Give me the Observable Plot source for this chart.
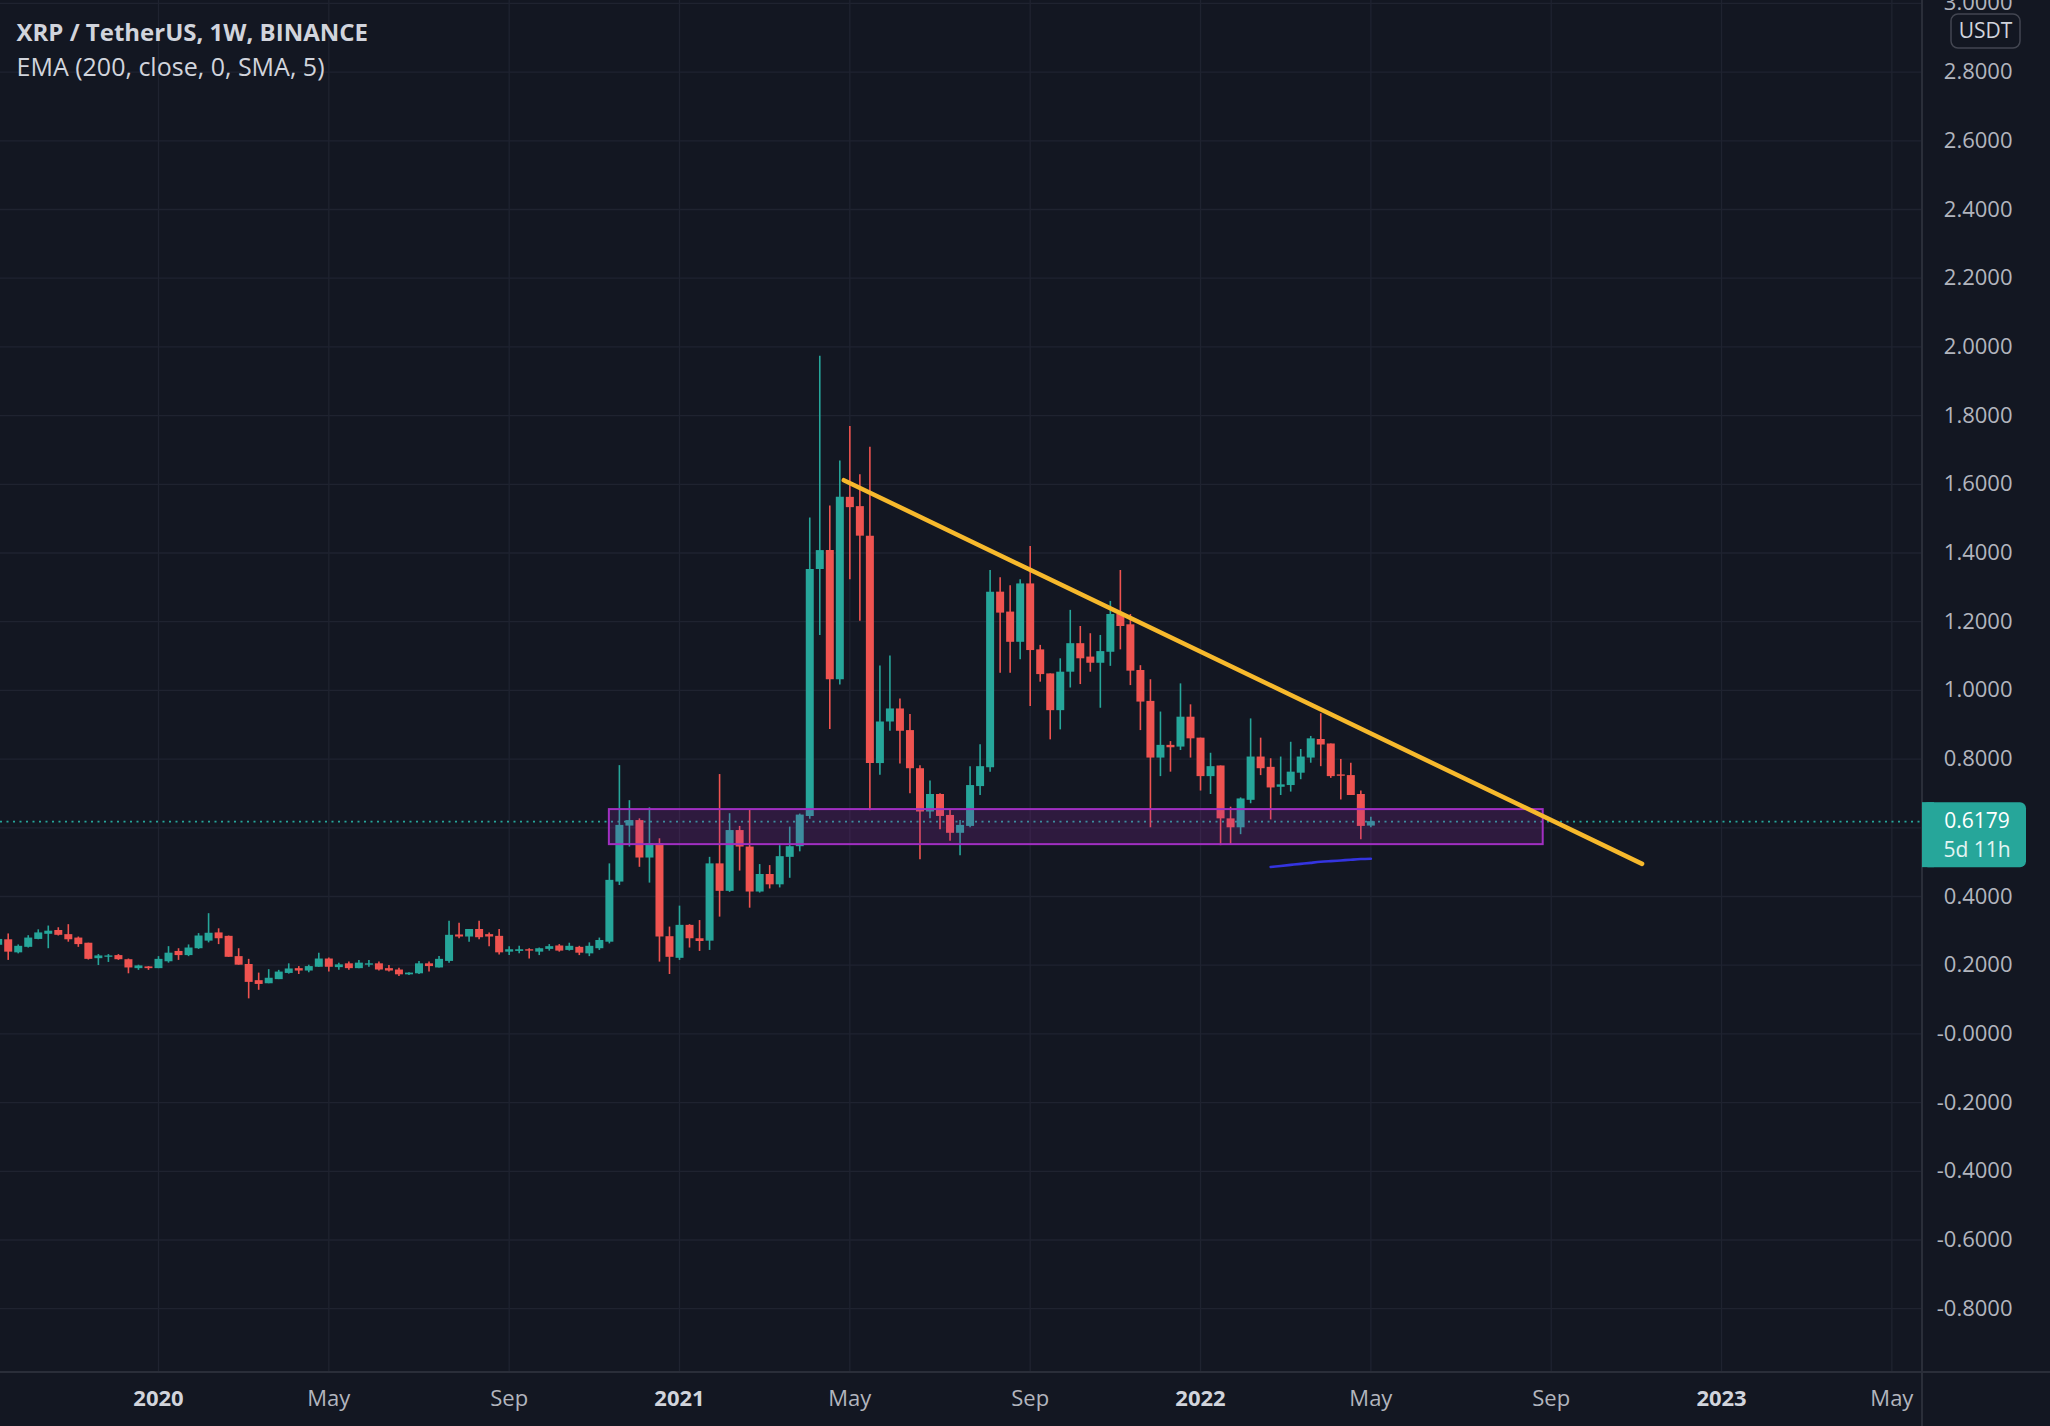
<!DOCTYPE html>
<html>
<head>
<meta charset="utf-8">
<script src="https://cdn.jsdelivr.net/npm/d3@7"></script>
<script src="https://cdn.jsdelivr.net/npm/@observablehq/plot@0.6"></script>
<style>
html, body { margin: 0; padding: 0; background: #131722; overflow: hidden; }
#chart { position: relative; width: 2050px; height: 1426px; }
</style>
</head>
<body>
<div id="chart"></div>
<script>
// ---------- DATA (weekly candles, first week = 2019-09-16) ----------
const firstWeek = "2019-09-16";
const opens = [
0.258,0.274,0.236,0.252,0.275,0.290,0.301,0.289,0.279,0.264,
0.219,0.223,0.228,0.216,0.190,0.195,0.190,0.210,0.240,0.228,
0.248,0.270,0.294,0.284,0.225,0.202,0.155,0.146,0.158,0.176,
0.190,0.183,0.194,0.218,0.193,0.204,0.190,0.200,0.204,0.190,
0.186,0.172,0.175,0.204,0.192,0.211,0.288,0.282,0.304,0.289,
0.284,0.238,0.240,0.245,0.238,0.246,0.256,0.243,0.252,0.233,
0.248,0.267,0.442,0.605,0.621,0.512,0.553,0.283,0.220,0.316,
0.277,0.270,0.495,0.415,0.592,0.544,0.413,0.464,0.434,0.514,
0.545,0.633,1.352,1.407,1.031,1.562,1.535,1.449,0.787,0.908,
0.946,0.883,0.772,0.646,0.697,0.636,0.584,0.604,0.720,0.775,
1.286,1.228,1.140,1.310,1.118,1.048,0.941,1.053,1.136,1.097,
1.079,1.111,1.221,1.191,1.058,0.968,0.803,0.840,0.835,0.922,
0.861,0.749,0.780,0.626,0.600,0.680,0.806,0.776,0.718,0.723,
0.759,0.803,0.857,0.844,0.754,0.752,0.697,0.605
];
const highs = [
0.280,0.291,0.259,0.286,0.303,0.314,0.309,0.318,0.282,0.264,
0.231,0.231,0.231,0.218,0.200,0.196,0.225,0.254,0.248,0.259,
0.292,0.350,0.306,0.285,0.248,0.217,0.177,0.187,0.185,0.204,
0.196,0.200,0.235,0.221,0.206,0.209,0.214,0.214,0.209,0.199,
0.191,0.178,0.211,0.209,0.225,0.328,0.322,0.304,0.328,0.294,
0.304,0.254,0.255,0.248,0.250,0.260,0.260,0.264,0.255,0.265,
0.279,0.495,0.781,0.679,0.626,0.658,0.568,0.311,0.372,0.318,
0.330,0.514,0.755,0.641,0.604,0.652,0.493,0.490,0.548,0.602,
0.640,1.502,1.973,1.537,1.668,1.768,1.628,1.708,1.071,1.100,
0.975,0.930,0.781,0.736,0.699,0.652,0.621,0.778,0.842,1.349,
1.328,1.305,1.322,1.419,1.131,1.048,1.092,1.233,1.186,1.165,
1.160,1.259,1.349,1.221,1.072,1.031,0.937,0.851,1.019,0.958,
0.861,0.817,0.780,0.660,0.687,0.917,0.861,0.801,0.806,0.849,
0.828,0.866,0.932,0.844,0.799,0.788,0.707,0.631
];
const lows = [
0.252,0.214,0.233,0.250,0.274,0.248,0.285,0.267,0.252,0.215,
0.199,0.208,0.214,0.175,0.185,0.185,0.190,0.206,0.214,0.225,
0.246,0.265,0.260,0.223,0.200,0.102,0.127,0.146,0.158,0.174,
0.173,0.178,0.194,0.180,0.185,0.185,0.190,0.194,0.183,0.180,
0.167,0.170,0.173,0.180,0.192,0.206,0.277,0.267,0.274,0.254,
0.230,0.228,0.233,0.218,0.228,0.241,0.238,0.241,0.228,0.225,
0.243,0.262,0.432,0.544,0.485,0.439,0.209,0.173,0.214,0.250,
0.240,0.243,0.340,0.412,0.474,0.366,0.410,0.422,0.425,0.453,
0.530,0.625,1.160,0.886,1.016,1.322,1.201,0.650,0.753,0.881,
0.786,0.699,0.507,0.626,0.594,0.561,0.519,0.600,0.694,0.762,
1.050,1.050,1.089,0.953,1.024,0.856,0.885,1.007,1.017,1.053,
0.948,1.070,1.118,1.014,0.883,0.600,0.749,0.762,0.825,0.803,
0.707,0.697,0.548,0.551,0.580,0.670,0.752,0.623,0.694,0.704,
0.740,0.788,0.778,0.744,0.681,0.694,0.565,0.600
];
const closes = [
0.275,0.238,0.255,0.279,0.294,0.299,0.287,0.274,0.260,0.217,
0.227,0.227,0.216,0.192,0.198,0.190,0.217,0.235,0.228,0.250,
0.285,0.293,0.277,0.223,0.200,0.150,0.144,0.162,0.180,0.189,
0.183,0.196,0.218,0.194,0.201,0.190,0.206,0.204,0.186,0.183,
0.172,0.177,0.204,0.196,0.217,0.287,0.282,0.304,0.280,0.282,
0.236,0.245,0.245,0.241,0.248,0.254,0.241,0.255,0.235,0.255,
0.272,0.447,0.607,0.621,0.512,0.553,0.282,0.223,0.316,0.277,
0.269,0.495,0.415,0.592,0.544,0.413,0.464,0.434,0.516,0.545,
0.637,1.352,1.407,1.031,1.562,1.532,1.449,0.787,0.908,0.946,
0.881,0.772,0.646,0.697,0.633,0.584,0.607,0.723,0.778,1.286,
1.225,1.140,1.310,1.116,1.046,0.941,1.053,1.136,1.092,1.079,
1.113,1.221,1.186,1.056,0.966,0.803,0.840,0.833,0.922,0.859,
0.749,0.778,0.626,0.600,0.684,0.806,0.772,0.716,0.725,0.762,
0.806,0.859,0.841,0.749,0.750,0.694,0.604,0.6179
];

// EMA (200) visible tail: week index offsets into the candle list and values
const emaFirstIndex = 127;
const emaValues = [0.486,0.489,0.492,0.495,0.498,0.501,0.503,0.505,0.507,0.509,0.510];

// Drawings
const trendDates = ["2021-04-28T19:00Z", "2022-11-07T12:00Z"];
const trendPrices = [1.612, 0.495];
const zoneDates = ["2020-11-16", "2022-08-30T10:00Z"];
const zonePrices = [0.551, 0.653];

// Axis ticks
const yTicks = [3.0,2.8,2.6,2.4,2.2,2.0,1.8,1.6,1.4,1.2,1.0,0.8,0.6,0.4,0.2,0,-0.2,-0.4,-0.6,-0.8];
const yearTicks = ["2020-01-06","2021-01-04","2022-01-03","2023-01-02"];
const monthTicks = ["2020-05-04","2020-09-07","2021-05-03","2021-09-06","2022-05-02","2022-09-05","2023-05-01"];

const titleText = "XRP / TetherUS, 1W, BINANCE";
const subtitleText = "EMA (200, close, 0, SMA, 5)";
const currency = "USDT";
const countdown = "5d 11h";

// ---------- BUILD ----------
const UP = "#26a69a", DOWN = "#ef5350";
const GRID = "#1f2330", SEP = "#2a2e39";
const start = new Date(firstWeek + "T00:00Z");
const candles = opens.map((o, i) => ({
  date: d3.utcMonday.offset(start, i),
  open: o, high: highs[i], low: lows[i], close: closes[i]
}));
const up = candles.filter(d => d.close >= d.open);
const down = candles.filter(d => d.close < d.open);
const ema = emaValues.map((v, j) => ({date: d3.utcMonday.offset(start, emaFirstIndex + j), value: v}));
const trend = trendDates.map((d, i) => ({date: new Date(d), price: trendPrices[i]}));
const zone = [{x1: new Date(zoneDates[0]), x2: new Date(zoneDates[1]), y1: zonePrices[0], y2: zonePrices[1]}];
const lastClose = closes[closes.length - 1];
const toDate = s => new Date(s.length > 10 ? s : s + "T00:00Z");
const yearDates = yearTicks.map(toDate);
const monthDates = monthTicks.map(toDate);
const fmtPrice = d => (d <= 0 ? "-" : "") + Math.abs(d).toFixed(4);

const W = 2050, H = 1426, MR = 128, MB = 54;

const chart = Plot.plot({
  width: W, height: H,
  marginTop: 0, marginRight: MR, marginBottom: MB, marginLeft: 0,
  style: {background: "#131722", fontFamily: "'Open Sans', sans-serif", fontSize: "22px", color: "#b2b5be", overflow: "hidden"},
  x: {type: "utc", domain: [new Date("2019-09-17T14:53Z"), new Date("2023-05-22T09:36Z")]},
  y: {domain: [-0.9857, 3.0084]},
  marks: [
    Plot.gridY(yTicks, {stroke: GRID, strokeOpacity: 1, strokeWidth: 1.3}),
    Plot.gridX([...yearDates, ...monthDates], {stroke: GRID, strokeOpacity: 1, strokeWidth: 1.3}),
    Plot.ruleY([lastClose], {stroke: UP, strokeWidth: 1.8, strokeDasharray: "2,4.5"}),
    Plot.ruleX(up, {x: "date", y1: "low", y2: "high", stroke: UP, strokeWidth: 1.6}),
    Plot.ruleX(down, {x: "date", y1: "low", y2: "high", stroke: DOWN, strokeWidth: 1.6}),
    Plot.ruleX(up, {x: "date", y1: "open", y2: "close", stroke: UP, strokeWidth: 8}),
    Plot.ruleX(down, {x: "date", y1: "open", y2: "close", stroke: DOWN, strokeWidth: 8}),
    Plot.rect(zone, {x1: "x1", x2: "x2", y1: "y1", y2: "y2", fill: "#9c27b0", fillOpacity: 0.2, stroke: "#a12fc2", strokeWidth: 2}),
    Plot.line(ema, {x: "date", y: "value", stroke: "#3434e0", strokeWidth: 2.6, curve: "natural"}),
    Plot.line(trend, {x: "date", y: "price", stroke: "#f7b92c", strokeWidth: 4.5, strokeLinecap: "round"}),
    Plot.axisY(yTicks, {anchor: "right", tickSize: 0, tickPadding: 90, textAnchor: "end", tickFormat: fmtPrice, label: null, color: "#b2b5be", fontSize: 22}),
    Plot.axisX(yearDates, {anchor: "bottom", tickSize: 0, tickPadding: 18, tickFormat: d3.utcFormat("%Y"), label: null, color: "#d1d4dc", fontWeight: "bold", fontSize: 22}),
    Plot.axisX(monthDates, {anchor: "bottom", tickSize: 0, tickPadding: 18, tickFormat: d3.utcFormat("%b"), label: null, color: "#b2b5be", fontSize: 22}),
    Plot.text([titleText], {text: d => d, frameAnchor: "top-left", dx: 16, dy: 23, fontWeight: "bold", fontSize: 24, fill: "#d1d4dc"}),
    Plot.text([subtitleText], {text: d => d, frameAnchor: "top-left", dx: 16, dy: 58, fontSize: 25, fill: "#d1d4dc"})
  ]
});
document.getElementById("chart").appendChild(chart);

// ---------- Price-scale decorations ----------
const svg = d3.select(chart);
const fx = W - MR;
svg.append("line").attr("x1", 0).attr("x2", W).attr("y1", H - MB).attr("y2", H - MB).attr("stroke", SEP).attr("stroke-width", 2);
svg.append("line").attr("x1", fx).attr("x2", fx).attr("y1", 0).attr("y2", H).attr("stroke", SEP).attr("stroke-width", 2);

const py = chart.scale("y").apply(lastClose);
const box = svg.append("g");
box.append("rect").attr("x", fx).attr("y", py - 19).attr("width", 104).attr("height", 65).attr("rx", 6).attr("fill", UP);
box.append("rect").attr("x", fx).attr("y", py - 19).attr("width", 12).attr("height", 65).attr("fill", UP);
box.append("text").attr("x", fx + 55).attr("y", py + 6.5).attr("text-anchor", "middle")
  .attr("font-family", "'Open Sans', sans-serif").attr("font-size", 21).attr("fill", "#ffffff").text(lastClose.toFixed(4));
box.append("text").attr("x", fx + 55).attr("y", py + 36).attr("text-anchor", "middle")
  .attr("font-family", "'Open Sans', sans-serif").attr("font-size", 21).attr("fill", "#e3f4f2").text(countdown);

const badge = svg.append("g");
badge.append("rect").attr("x", 1951).attr("y", 14).attr("width", 69).attr("height", 34).attr("rx", 7)
  .attr("fill", "#131722").attr("stroke", "#434651").attr("stroke-width", 1.5);
badge.append("text").attr("x", 1985.5).attr("y", 38).attr("text-anchor", "middle")
  .attr("font-family", "'Open Sans', sans-serif").attr("font-size", 21).attr("fill", "#d1d4dc").text(currency);
</script>
</body>
</html>
